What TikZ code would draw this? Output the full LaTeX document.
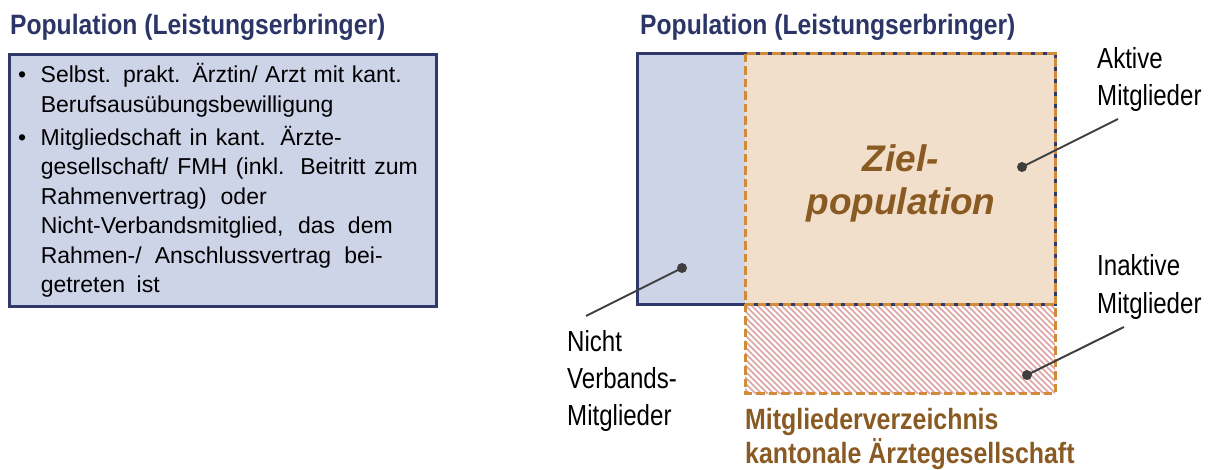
\documentclass[tikz,border=0pt]{standalone}
\usepackage{fontspec}
\setmainfont{Liberation Sans}
\newfontfamily\titlefam[FakeStretch=0.88]{Liberation Sans}
\newfontfamily\narrowfam[FakeStretch=0.85]{Liberation Sans}
\newfontfamily\labelfam[FakeStretch=0.83]{Liberation Sans}
\definecolor{navy}{HTML}{2F3A6B}
\definecolor{titleblue}{HTML}{2B3566}
\definecolor{lavender}{HTML}{CED4E8}
\definecolor{peach}{HTML}{F2DFCB}
\definecolor{orangeline}{HTML}{D28B3B}
\definecolor{browntext}{HTML}{8A5A23}
\definecolor{hatchred}{HTML}{DCA3A3}
\definecolor{leadgray}{HTML}{3F3F3F}
\tikzset{
  titletext/.style={inner sep=0pt, anchor=base west, text=titleblue, font=\titlefam\bfseries\fontsize{28}{32}\selectfont},
  labeltext/.style={inner sep=0pt, anchor=base west, text=black, font=\labelfam\fontsize{29}{37}\selectfont},
  dotmark/.style={circle, fill=leadgray, inner sep=0pt, minimum size=10pt},
  leader/.style={draw=leadgray, line width=2pt},
  navyframe/.style={draw=navy, line width=3pt},
  orangedash/.style={draw=orangeline, line width=3pt, dash pattern=on 8.5pt off 4pt},
}
\newcommand{\jl}[2]{\makebox[#1pt][s]{#2}}
\begin{document}
\begin{tikzpicture}[x=1pt,y=-1pt]
\useasboundingbox (0,0) rectangle (1216,470);

% ---------- left part ----------
\node[titletext] (ltitle) at (10,35) {Population (Leistungserbringer)};
\node[navyframe, fill=lavender, anchor=north west, minimum width=427pt, minimum height=252pt, inner sep=0pt] (leftbox) at (8,53) {};
\node[inner sep=0pt, anchor=base west, font=\fontsize{23}{29.5}\selectfont] (lefttext) at (18,83) {%
\begin{tabular}[t]{@{}l@{\hspace{14.5pt}}l@{}}
\textbullet & \jl{361}{Selbst. prakt. Ärztin/ Arzt mit kant.}\\
 & Berufsausübungsbewilligung\\[3.5pt]
\textbullet & \jl{301}{Mitgliedschaft in kant. Ärzte-}\\
 & \jl{377}{gesellschaft/ FMH (inkl. Beitritt zum}\\
 & \jl{226}{Rahmenvertrag) oder}\\
 & \jl{352}{Nicht-Verbandsmitglied, das dem}\\
 & \jl{342}{Rahmen-/ Anschlussvertrag bei-}\\
 & \jl{119}{getreten ist}
\end{tabular}};

% ---------- right part ----------
\node[titletext] (rtitle) at (640,35) {Population (Leistungserbringer)};

% fills
\fill[lavender] (637,54) rectangle (745,305);
\fill[peach] (745,54) rectangle (1055,305);
\fill[white] (745,305) rectangle (1055,393);
\begin{scope}
  \clip (745,305) rectangle (1055,393);
  \foreach \i in {0,...,70} {
    \draw[hatchred, line width=1.7pt] ({655+6*\i},305) -- ({745+6*\i},395);
  }
\end{scope}

% population outline (navy)
\draw[navyframe] (637,54) rectangle (1055,305);
% target / directory outline (orange dashed)
\draw[orangedash] (745,54) rectangle (1055,393);
\draw[orangedash] (745,305) -- (1055,305);

% central text
\node[inner sep=0pt, anchor=base, text=browntext, font=\bfseries\itshape\fontsize{37}{43}\selectfont] (ziel) at (901,172) {%
\begin{tabular}[t]{@{}c@{}}Ziel-\\population\end{tabular}};

% directory caption
\node[inner sep=0pt, anchor=base west, text=browntext, font=\narrowfam\bfseries\fontsize{29.3}{33}\selectfont] (verz) at (745,429) {%
\begin{tabular}[t]{@{}l@{}}Mitgliederverzeichnis\\kantonale Ärztegesellschaft\end{tabular}};

% labels
\node[labeltext] (aktiv) at (1097,69) {%
\begin{tabular}[t]{@{}l@{}}Aktive\\Mitglieder\end{tabular}};
\node[labeltext, font=\labelfam\fontsize{29}{38}\selectfont] (inaktiv) at (1097,276) {%
\begin{tabular}[t]{@{}l@{}}Inaktive\\Mitglieder\end{tabular}};
\node[labeltext] (nicht) at (567,352) {%
\begin{tabular}[t]{@{}l@{}}Nicht\\Verbands-\\Mitglieder\end{tabular}};

% dots and leader lines
\node[dotmark] (dnicht) at (682,268) {};
\node[dotmark] (daktiv) at (1022,167) {};
\node[dotmark] (dinaktiv) at (1027,375) {};
\coordinate (enicht) at (586,316);
\coordinate (eaktiv) at (1118,119);
\coordinate (einaktiv) at (1124,327);
\draw[leader] (dnicht.center) -- (enicht);
\draw[leader] (daktiv.center) -- (eaktiv);
\draw[leader] (dinaktiv.center) -- (einaktiv);
\end{tikzpicture}
\end{document}
